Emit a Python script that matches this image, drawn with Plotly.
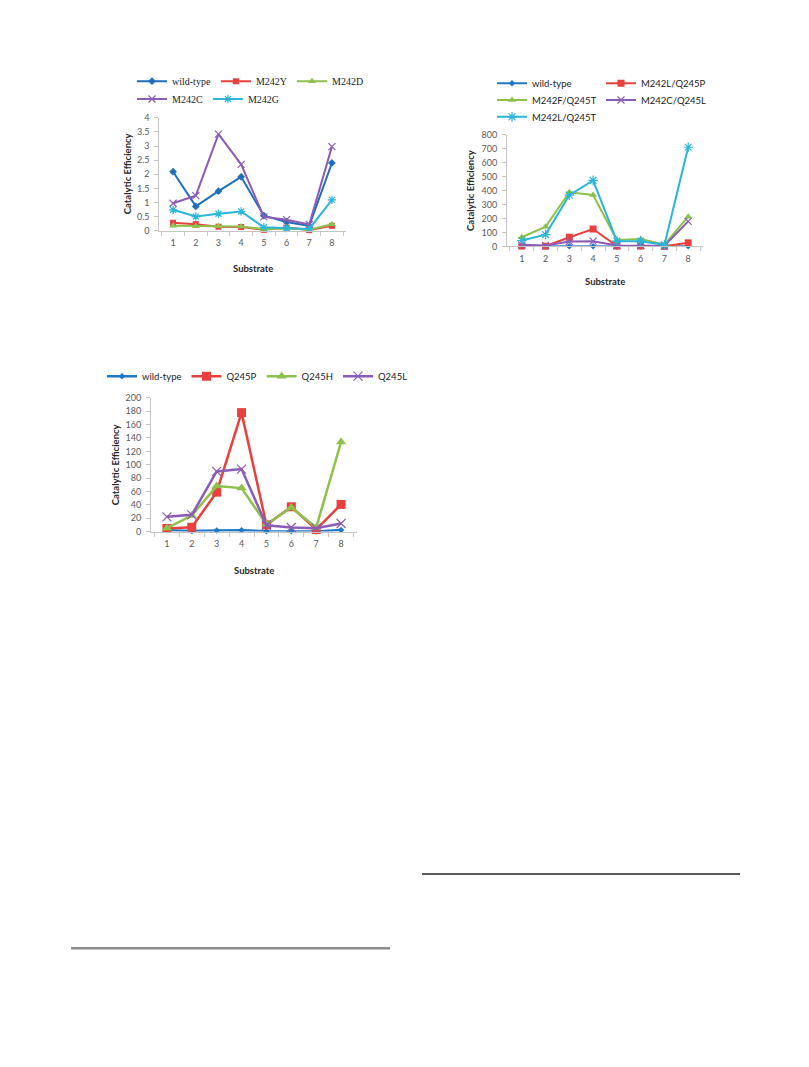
import plotly.graph_objects as go

W, H = 809, 1067

substrates = ["1", "2", "3", "4", "5", "6", "7", "8"]
y1_ticks = [0, 0.5, 1, 1.5, 2, 2.5, 3, 3.5, 4]
y2_ticks = [0, 100, 200, 300, 400, 500, 600, 700, 800]
y3_ticks = [0, 20, 40, 60, 80, 100, 120, 140, 160, 180, 200]

# Chart 1
wild_type = [2.09, 0.86, 1.40, 1.91, 0.53, 0.31, 0.17, 2.40]
m242y = [0.28, 0.23, 0.14, 0.13, 0.03, 0.11, 0.02, 0.17]
m242d = [0.17, 0.16, 0.16, 0.15, 0.05, 0.08, 0.03, 0.23]
m242c = [0.97, 1.24, 3.42, 2.35, 0.49, 0.39, 0.22, 2.98]
m242g = [0.74, 0.50, 0.60, 0.68, 0.12, 0.09, 0.06, 1.09]

# Chart 2
m242l_q245p = [3, 2, 66, 125, 3, 3, 1, 26]
m242f_q245t = [66, 142, 388, 369, 47, 54, 14, 213]
m242c_q245l = [12, 7, 36, 38, 7, 7, 5, 180]
m242l_q245t = [43, 85, 367, 473, 38, 38, 12, 710]

# Chart 3
q245p = [4.5, 6.4, 59, 178, 10, 37, 3, 40.6]
q245h = [5, 24, 68, 65, 11, 36, 6, 134]
q245l = [22, 25, 90, 93.5, 9.4, 6, 5, 12]

BLUE = "#2077c6"
RED = "#e8403d"
GREEN = "#8ec04c"
PURPLE = "#8b5cb5"
CYAN = "#2ab5d9"


def xp(px):
    return px / W


def yp(py):
    return 1 - py / H


fig = go.Figure()


def add(name, y, color, symbol, size, xa, ya, legend, lw=2, open_marker=False):
    marker = dict(symbol=symbol, size=size, color=color)
    if open_marker:
        marker["line"] = dict(color=color, width=1.2)
    fig.add_trace(go.Scatter(
        x=substrates, y=y, name=name, mode="lines+markers",
        line=dict(color=color, width=lw), marker=marker,
        xaxis=xa, yaxis=ya, legend=legend, cliponaxis=False,
    ))


# Chart 1
add("wild-type", wild_type, "#1f6fba", "diamond", 6, "x", "y", "legend")
add("M242Y", m242y, RED, "square", 6, "x", "y", "legend")
add("M242D", m242d, GREEN, "triangle-up", 7, "x", "y", "legend")
add("M242C", m242c, PURPLE, "x-thin-open", 7, "x", "y", "legend2", open_marker=True)
add("M242G", m242g, CYAN, "asterisk-open", 7, "x", "y", "legend2", open_marker=True)

# Chart 2
add("wild-type", wild_type, BLUE, "diamond", 5, "x2", "y2", "legend3")
add("M242L/Q245P", m242l_q245p, RED, "square", 7, "x2", "y2", "legend3")
add("M242F/Q245T", m242f_q245t, GREEN, "triangle-up", 7, "x2", "y2", "legend4")
add("M242C/Q245L", m242c_q245l, PURPLE, "x-thin-open", 7, "x2", "y2", "legend4", open_marker=True)
add("M242L/Q245T", m242l_q245t, CYAN, "asterisk-open", 8, "x2", "y2", "legend5", open_marker=True)

# Chart 3
add("wild-type", wild_type, BLUE, "diamond", 5, "x3", "y3", "legend6", lw=2.5)
add("Q245P", q245p, RED, "square", 9, "x3", "y3", "legend6", lw=2.5)
add("Q245H", q245h, GREEN, "triangle-up", 9, "x3", "y3", "legend6", lw=2.5)
add("Q245L", q245l, PURPLE, "x-thin-open", 9, "x3", "y3", "legend6", lw=2.5, open_marker=True)

AXCOL = "#c4c4c4"
TICKFONT = dict(family="Lato", size=9, color="#595959")


def xaxis(dom, anchor):
    return dict(domain=dom, anchor=anchor, type="category", tickson="boundaries",
                ticks="outside", ticklen=4, tickcolor=AXCOL, showline=True,
                linecolor=AXCOL, linewidth=1, showgrid=False, zeroline=False,
                tickfont=TICKFONT, ticklabelstandoff=4, fixedrange=True)


def yaxis(dom, anchor, rng, ticks):
    return dict(domain=dom, anchor=anchor, range=rng, tickvals=ticks,
                ticks="outside", ticklen=4, tickcolor=AXCOL, showline=True,
                linecolor=AXCOL, linewidth=1, showgrid=False, zeroline=False,
                tickfont=TICKFONT, ticklabelstandoff=3, fixedrange=True)


def legend(xpx, ypx, font):
    return dict(orientation="h", x=xp(xpx), xanchor="left", y=yp(ypx),
                yanchor="middle", bgcolor="rgba(0,0,0,0)", borderwidth=0,
                font=font, itemwidth=30, tracegroupgap=0)


SERIF = dict(family="Liberation Serif", size=10, color="#1a1a1a")
SANS = dict(family="Lato", size=9.5, color="#1a1a1a")

TITLEFONT = dict(family="Lato", size=9.5, color="#262626", weight="bold")

annotations = []
for (sx, sy, tx, ty) in [(253, 265, 127, 170), (605, 278, 470, 187), (254, 570, 115, 464)]:
    annotations.append(dict(text="Substrate", x=xp(sx), y=yp(sy), xref="paper", yref="paper",
                            showarrow=False, font=TITLEFONT, xanchor="center", yanchor="middle"))
    annotations.append(dict(text="Catalytic Efficiency", x=xp(tx), y=yp(ty), xref="paper", yref="paper",
                            showarrow=False, font=TITLEFONT, textangle=-90,
                            xanchor="center", yanchor="middle"))

fig.update_layout(
    width=W, height=H, autosize=False,
    margin=dict(l=0, r=0, t=0, b=0),
    paper_bgcolor="white", plot_bgcolor="white",
    xaxis=xaxis([xp(159.4), xp(345.6)], "y"),
    yaxis=yaxis([yp(227), yp(113)], "x", [0, 4], y1_ticks),
    xaxis2=xaxis([xp(507), xp(703)], "y2"),
    yaxis2=yaxis([yp(243), yp(130)], "x2", [0, 800], y2_ticks),
    xaxis3=xaxis([xp(151), xp(357)], "y3"),
    yaxis3=yaxis([yp(531), yp(396)], "x3", [0, 200], y3_ticks),
    legend=legend(132, 76, SERIF),
    legend2=legend(132, 94, SERIF),
    legend3=dict(legend(492, 78, SANS), entrywidth=64),
    legend4=dict(legend(492, 95, SANS), entrywidth=64),
    legend5=dict(legend(492, 112, SANS), entrywidth=64),
    legend6=legend(102, 374, SANS),
    annotations=annotations,
    shapes=[
        dict(type="line", xref="paper", yref="paper", x0=xp(422), x1=xp(740),
             y0=yp(877), y1=yp(877), line=dict(color="#222222", width=1.5)),
        dict(type="line", xref="paper", yref="paper", x0=xp(71), x1=xp(390),
             y0=yp(952), y1=yp(952), line=dict(color="#8c8c8c", width=2.5)),
    ],
    showlegend=True,
)

fig.write_html("out.html", config={"displayModeBar": False},
               post_script="document.body.style.margin='0';")
